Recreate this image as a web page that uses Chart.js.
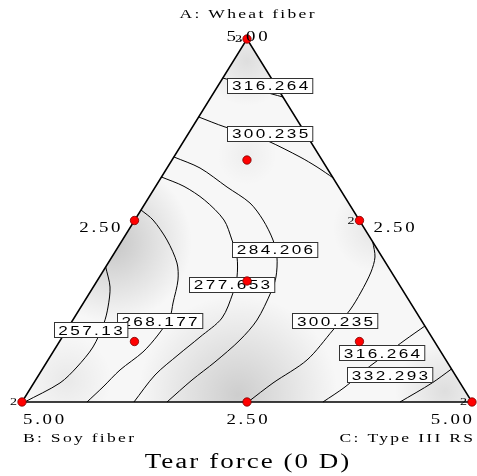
<!DOCTYPE html>
<html>
<head>
<meta charset="utf-8">
<script src="https://cdn.jsdelivr.net/npm/chart.js@4.4.1/dist/chart.umd.min.js"></script>
<style>
  body { margin: 0; background: #fff; }
</style>
</head>
<body>
<canvas id="tearChart" width="477" height="476"></canvas>
<script>
// Componentes da mistura (A + B + C = 5)
const componentNames = ['A: Wheat fiber', 'B: Soy fiber', 'C: Type III RS'];
const chartTitle = 'Tear force (0 D)';
const cornerTick = 5.0;
const edgeTick = 2.5;

// Pontos do planejamento (vértices, pontos médios, centroide, pontos axiais)
const compA = [5, 0, 0, 2.5, 2.5, 0, 1.667, 3.333, 0.833, 0.833];
const compB = [0, 5, 0, 2.5, 0, 2.5, 1.667, 0.833, 3.333, 0.833];
const compC = [0, 0, 5, 0, 2.5, 2.5, 1.667, 0.833, 0.833, 3.333];
const replicates = [2, 2, 2, 1, 2, 1, 1, 1, 1, 1];

// Curvas de nível, em coordenadas do plano (x = C + A/2, y = A)
const c257 = [[0.93, 1.86], [0.978, 1.584], [0.956, 1.309], [0.911, 1.088], [0.789, 0.758], [0.611, 0.482], [0.422, 0.262], [0.03, 0]];
const c268 = [[1.322, 2.645], [1.456, 2.507], [1.611, 2.231], [1.722, 1.915], [1.733, 1.68], [1.678, 1.364], [1.644, 1.171], [1.511, 0.923], [1.344, 0.689], [1.089, 0.441], [0.9, 0.207], [0.722, 0]];
const c277 = [[1.55, 3.099], [1.8, 2.97], [2.03, 2.78], [2.244, 2.507], [2.333, 2.231], [2.389, 1.997], [2.389, 1.722], [2.344, 1.501], [2.222, 1.157], [1.978, 0.895], [1.733, 0.647], [1.478, 0.372], [1.244, 0]];
const c284 = [[1.688, 3.375], [1.978, 3.223], [2.278, 2.961], [2.533, 2.741], [2.678, 2.507], [2.789, 2.231], [2.833, 1.997], [2.822, 1.722], [2.767, 1.515], [2.611, 1.129], [2.422, 0.854], [2.144, 0.551], [1.889, 0.303], [1.611, 0]];
const c300a = [[1.963, 3.926], [2.256, 3.788], [2.5, 3.705], [2.733, 3.595], [3.089, 3.375], [3.278, 3.237], [3.46, 3.085]];
const c316a = [[2.231, 4.463], [2.422, 4.394], [2.622, 4.298], [2.778, 4.242], [2.9, 4.201]];
const c300b = [[3.898, 2.204], [3.922, 1.997], [3.878, 1.791], [3.767, 1.515], [3.644, 1.267], [3.456, 0.992], [3.167, 0.579], [2.789, 0.262], [2.511, 0]];
const c316b = [[4.477, 1.047], [4.256, 0.854], [4.033, 0.647], [3.811, 0.441], [3.589, 0.207], [3.344, 0]];
const c332 = [[4.773, 0.455], [4.556, 0.262], [4.2, 0]];

const contours = [c257, c268, c277, c284, c300a, c316a, c300b, c316b, c332];
const contourLevels = ['257.13', '268.177', '277.653', '284.206', '300.235', '316.264', '300.235', '316.264', '332.293'];

// Onde cada rótulo de nível fica (coordenadas do plano)
const labelSpots = [[0.761, 0.992], [1.528, 1.116], [2.333, 1.618], [2.811, 2.101], [2.756, 3.698], [2.756, 4.36], [3.478, 1.116], [4.0, 0.675], [4.089, 0.372]];
// ordem de desenho dos rótulos (o 257.13 fica por cima do 268.177)
const labelOrder = [1, 0, 2, 3, 4, 5, 6, 7, 8];

const toPlane = (a, c) => ({ x: c + a / 2, y: a });

// Texto esticado na horizontal, com espaçamento
function drawStretched(ctx, text, x, y, font, align, spacing, sx) {
  ctx.save();
  ctx.font = font;
  ctx.letterSpacing = spacing + 'px';
  ctx.textBaseline = 'middle';
  ctx.textAlign = 'left';
  const w = (ctx.measureText(text).width - spacing) * sx;
  let left = x;
  if (align === 'center') left = x - w / 2;
  if (align === 'right') left = x - w;
  ctx.translate(left, y);
  ctx.scale(sx, 1);
  ctx.fillText(text, 0, 0);
  ctx.restore();
  return w;
}

function textWidth(ctx, text, font, spacing, sx) {
  ctx.save();
  ctx.font = font;
  ctx.letterSpacing = spacing + 'px';
  const w = (ctx.measureText(text).width - spacing) * sx;
  ctx.restore();
  return w;
}

const serif = '"Liberation Serif", "DejaVu Serif", serif';
const sans = '"Liberation Sans", Arial, sans-serif';

const ternaryPlugin = {
  id: 'ternary',
  beforeDatasetsDraw(chart) {
    const { ctx, scales: { x, y } } = chart;
    const px = (u) => x.getPixelForValue(u);
    const py = (v) => y.getPixelForValue(v);
    ctx.save();
    ctx.beginPath();
    ctx.moveTo(px(0), py(0));
    ctx.lineTo(px(5), py(0));
    ctx.lineTo(px(2.5), py(5));
    ctx.closePath();
    ctx.clip();
    ctx.fillStyle = '#f7f7f7';
    ctx.fillRect(0, 0, chart.width, chart.height);
    // sombreamento do erro padrão
    const spots = [
      [1.0, 2.2, 80, 0.2], [2.4, 0.1, 100, 0.17], [2.5, 4.7, 45, 0.1],
      [3.95, 2.4, 45, 0.08], [4.7, 0.15, 50, 0.1], [0.5, 0.3, 45, 0.06], [2.5, 3.4, 30, 0.04]
    ];
    spots.forEach(([u, v, r, a]) => {
      const g = ctx.createRadialGradient(px(u), py(v), 0, px(u), py(v), r);
      g.addColorStop(0, `rgba(0,0,0,${a})`);
      g.addColorStop(1, 'rgba(0,0,0,0)');
      ctx.fillStyle = g;
      ctx.fillRect(0, 0, chart.width, chart.height);
    });
    ctx.restore();
  },
  beforeDatasetDraw(chart, args) {
    if (args.index !== 0) return;
    const { ctx, scales: { x, y } } = chart;
    const font = '13px ' + sans;
    labelOrder.forEach((i) => {
      const cx = x.getPixelForValue(labelSpots[i][0]);
      const cy = y.getPixelForValue(labelSpots[i][1]);
      const w = textWidth(ctx, contourLevels[i], font, 1.8, 1.32) + 9;
      const h = 15;
      const left = Math.round(cx - w / 2) + 0.5;
      const top = Math.round(cy - h / 2) + 0.5;
      ctx.save();
      ctx.fillStyle = '#fff';
      ctx.strokeStyle = '#333';
      ctx.lineWidth = 1;
      ctx.fillRect(left, top, w, h);
      ctx.strokeRect(left, top, w, h);
      ctx.fillStyle = '#000';
      drawStretched(ctx, contourLevels[i], cx, cy + 1, font, 'center', 1.8, 1.32);
      ctx.restore();
    });
  },
  afterDraw(chart) {
    const { ctx, scales: { x, y } } = chart;
    const px = (u) => x.getPixelForValue(u);
    const py = (v) => y.getPixelForValue(v);
    const tickFont = '14px ' + serif;
    const nameFont = '13px ' + serif;
    const cornerTxt = cornerTick.toFixed(2);
    const edgeTxt = edgeTick.toFixed(2);
    ctx.save();
    ctx.fillStyle = '#000';

    // vértice A
    drawStretched(ctx, componentNames[0], px(2.5), 15, nameFont, 'center', 1.7, 1.35);
    drawStretched(ctx, cornerTxt, px(2.5), py(5) - 2, tickFont, 'center', 2, 1.35);
    // pontos médios das arestas laterais
    drawStretched(ctx, edgeTxt, px(1.25) - 14, py(2.5) + 7.5, tickFont, 'right', 2, 1.35);
    drawStretched(ctx, edgeTxt, px(3.75) + 14, py(2.5) + 7.5, tickFont, 'left', 2, 1.35);
    // base
    const baseY = py(0) + 18;
    drawStretched(ctx, cornerTxt, px(0) + 1, baseY, tickFont, 'left', 2, 1.35);
    drawStretched(ctx, edgeTxt, px(2.5), baseY, tickFont, 'center', 2, 1.35);
    drawStretched(ctx, cornerTxt, px(5), baseY, tickFont, 'right', 2, 1.35);
    drawStretched(ctx, componentNames[1], px(0) + 1, py(0) + 37, nameFont, 'left', 1.7, 1.35);
    drawStretched(ctx, componentNames[2], px(5) + 1, py(0) + 37, nameFont, 'right', 1.7, 1.35);
    drawStretched(ctx, chartTitle, px(2.5), py(0) + 61, '20px ' + serif, 'center', 1.5, 1.35);

    // número de réplicas ao lado dos pontos
    compA.forEach((a, i) => {
      if (replicates[i] < 2) return;
      const p = toPlane(a, compC[i]);
      drawStretched(ctx, String(replicates[i]), px(p.x) - 5, py(p.y) + 0.5, '10px ' + serif, 'right', 0, 1.4);
    });
    ctx.restore();
  }
};

const designPoints = compA.map((a, i) => toPlane(a, compC[i]));

const datasets = [{
  label: 'Design points',
  data: designPoints,
  pointRadius: 4.2,
  pointBackgroundColor: '#ff0000',
  pointBorderColor: '#7a0000',
  pointBorderWidth: 0.8,
  showLine: false,
  clip: false
}, {
  label: 'Triangle',
  data: [{ x: 0, y: 0 }, { x: 5, y: 0 }, { x: 2.5, y: 5 }, { x: 0, y: 0 }],
  showLine: true,
  borderColor: '#000',
  borderWidth: 1.5,
  pointRadius: 0,
  tension: 0,
  clip: false
}];

contours.forEach((c, i) => {
  datasets.push({
    label: contourLevels[i],
    data: c.map(([u, v]) => ({ x: u, y: v })),
    showLine: true,
    borderColor: '#000',
    borderWidth: 1,
    pointRadius: 0,
    tension: 0.3,
    clip: false
  });
});

new Chart(document.getElementById('tearChart'), {
  type: 'scatter',
  data: { datasets },
  options: {
    responsive: false,
    animation: false,
    devicePixelRatio: 1,
    layout: { padding: { left: 22, right: 5, top: 39, bottom: 74 } },
    plugins: { legend: { display: false }, tooltip: { enabled: false } },
    scales: {
      x: { type: 'linear', min: 0, max: 5, display: false },
      y: { type: 'linear', min: 0, max: 5, display: false }
    }
  },
  plugins: [ternaryPlugin]
});
</script>
</body>
</html>
